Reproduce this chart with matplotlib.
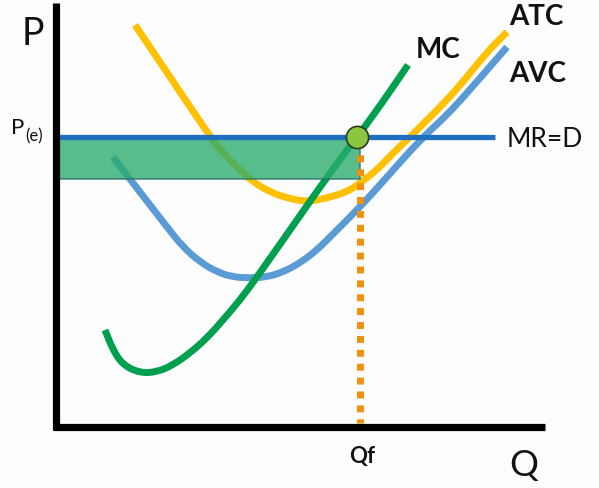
import matplotlib
matplotlib.use("Agg")
import matplotlib.pyplot as plt
import matplotlib.patches as mpatches
from matplotlib.path import Path

# curves (pixel space, y downwards)
mc_x = [105, 113, 123, 140, 157, 173, 190, 207, 223, 240, 257, 290, 320, 347, 373, 408]
mc_y = [330, 350, 365, 373, 372, 365, 353, 338, 320, 300, 277, 230, 187, 150, 116, 65]

atc_x = [135, 170, 207, 220, 237, 253, 270, 287, 307, 327, 347, 360, 377, 393,
         410, 427, 447, 467, 487, 507]
atc_y = [25, 77, 132, 150, 167, 182, 192, 198, 202, 198, 192, 183, 170, 153,
         137, 120, 100, 77, 52, 32]

avc_x = [113, 133, 150, 167, 183, 200, 217, 233, 250, 267, 283, 300, 317, 333,
         360, 387, 420, 447, 467, 487, 507]
avc_y = [157, 183, 205, 227, 247, 262, 272, 277, 278, 277, 272, 263, 250, 234,
         207, 177, 140, 115, 93, 70, 47]

price_e = 137
q_f = 360
mr_end = 495
profit_bottom = 179

plt.rcParams['font.family'] = ['Lato', 'DejaVu Sans']


def smooth_curve(ax, xs, ys, color):
    # quadratic bezier through the midpoints, the read points act as control points
    pts = list(zip(xs, ys))
    mids = [((a[0] + b[0]) / 2, (a[1] + b[1]) / 2) for a, b in zip(pts[:-1], pts[1:])]
    verts = [pts[0], mids[0]]
    codes = [Path.MOVETO, Path.LINETO]
    for i in range(1, len(pts) - 1):
        verts += [pts[i], mids[i]]
        codes += [Path.CURVE3, Path.CURVE3]
    verts.append(pts[-1])
    codes.append(Path.LINETO)
    ax.add_patch(mpatches.PathPatch(Path(verts, codes), fill=False, edgecolor=color,
                                    lw=5, capstyle='butt', joinstyle='round', zorder=2))


fig = plt.figure(figsize=(5.99, 4.88), dpi=100)
ax = fig.add_axes([0, 0, 1, 1])
ax.set_xlim(0, 599)
ax.set_ylim(488, 0)
ax.axis('off')

# axes of the diagram
ax.plot([56, 56], [3, 430], color='black', lw=5.2, solid_capstyle='butt', zorder=6)
ax.plot([53, 545], [427, 427], color='black', lw=5.2, solid_capstyle='butt', zorder=6)

# cost curves
smooth_curve(ax, avc_x, avc_y, '#5b9bd5')
smooth_curve(ax, atc_x, atc_y, '#ffc000')
smooth_curve(ax, mc_x, mc_y, '#00a04e')

# profit box
ax.add_patch(mpatches.Rectangle((58, price_e), q_f - 58, profit_bottom - price_e,
                                facecolor='#2aac6c', alpha=0.78,
                                edgecolor='#2a6f6a', lw=1.2, zorder=3))

# Qf dotted line
ax.plot([q_f, q_f], [141, 423], color='#f0900c', lw=5, linestyle=(0, (1, 1)),
        dash_capstyle='butt', zorder=3)

# MR = D
ax.plot([58, mr_end], [price_e, price_e], color='#1f6fc0', lw=3.8,
        solid_capstyle='butt', zorder=4)

# equilibrium point
ax.plot([357], [price_e], marker='o', markersize=16, markerfacecolor='#8cc63f',
        markeredgecolor='#2b3a20', markeredgewidth=1.2, zorder=5)

# labels
tc = '#111111'
ax.text(22, 45, 'P', fontsize=27, color=tc, va='baseline')
ax.text(509, 476, 'Q', fontsize=26, color=tc, va='baseline')
ax.text(11, 134, 'P', fontsize=16, color=tc, va='baseline')
ax.text(25, 141, '(e)', fontsize=12, color=tc, va='baseline')
ax.text(507, 147, 'MR=D', fontsize=19, color=tc, va='baseline')
ax.text(416, 58, 'MC', fontsize=20, fontweight='bold', color=tc, va='baseline')
ax.text(509, 25, 'ATC', fontsize=20, fontweight='bold', color=tc, va='baseline')
ax.text(509, 82, 'AVC', fontsize=20, fontweight='bold', color=tc, va='baseline')
ax.text(362, 463, 'Qf', fontsize=16, fontweight='bold', color=tc, va='baseline', ha='center')

fig.savefig('out.png', dpi=100, facecolor='#fdfdfd')
